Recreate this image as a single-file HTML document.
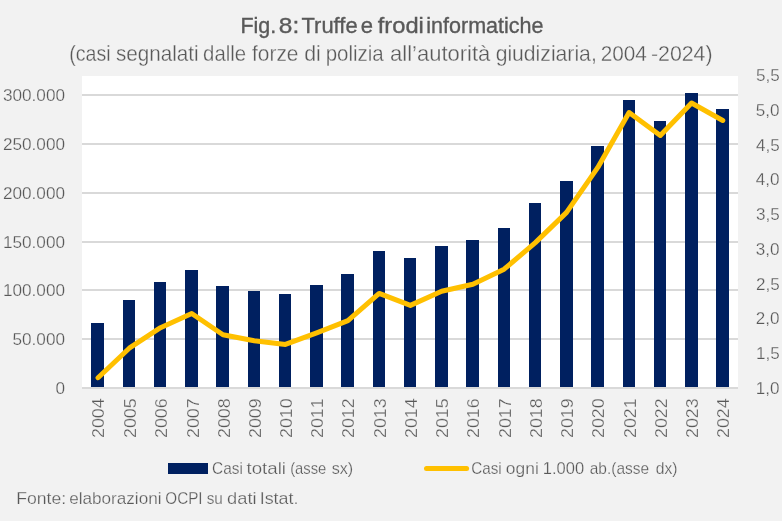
<!DOCTYPE html>
<html lang="it"><head><meta charset="utf-8"><title>Fig. 8: Truffe e frodi informatiche</title>
<style>html,body{margin:0;padding:0;background:#f2f2f2;}svg{display:block;}text{font-family:"Liberation Sans", sans-serif;fill:#595959;stroke:#f2f2f2;stroke-width:0.3px;}.b{stroke:#595959;stroke-width:0.35px;}.s,.s text{stroke-width:0.25px;}</style></head><body>
<svg width="782" height="521" viewBox="0 0 782 521">
<rect x="0" y="0" width="782" height="521" fill="#f2f2f2"/>
<rect x="82.0" y="76.0" width="656.0" height="312.0" fill="#ffffff"/>
<g fill="#d9d9d9" shape-rendering="crispEdges">
<rect x="82" y="338" width="656" height="2"/>
<rect x="82" y="289" width="656" height="2"/>
<rect x="82" y="241" width="656" height="2"/>
<rect x="82" y="192" width="656" height="2"/>
<rect x="82" y="143" width="656" height="2"/>
<rect x="82" y="94" width="656" height="2"/>
</g>
<g fill="#002060" shape-rendering="crispEdges">
<rect x="91" y="323" width="13" height="64"/>
<rect x="123" y="300" width="12" height="87"/>
<rect x="154" y="282" width="12" height="105"/>
<rect x="185" y="270" width="13" height="117"/>
<rect x="216" y="286" width="13" height="101"/>
<rect x="248" y="291" width="12" height="96"/>
<rect x="279" y="294" width="12" height="93"/>
<rect x="310" y="285" width="13" height="102"/>
<rect x="341" y="274" width="13" height="113"/>
<rect x="373" y="251" width="12" height="136"/>
<rect x="404" y="258" width="12" height="129"/>
<rect x="435" y="246" width="13" height="141"/>
<rect x="466" y="240" width="13" height="147"/>
<rect x="498" y="228" width="12" height="159"/>
<rect x="529" y="203" width="12" height="184"/>
<rect x="560" y="181" width="13" height="206"/>
<rect x="591" y="146" width="13" height="241"/>
<rect x="623" y="100" width="12" height="287"/>
<rect x="654" y="121" width="12" height="266"/>
<rect x="685" y="93" width="13" height="294"/>
<rect x="716" y="109" width="13" height="278"/>
</g>
<rect x="82" y="387" width="656" height="2" fill="#d9d9d9" shape-rendering="crispEdges"/>
<polyline points="98.02,377.70 129.26,348.20 160.50,327.70 191.73,313.50 222.97,334.80 254.21,340.70 285.45,344.40 316.69,332.90 347.92,320.70 379.16,293.40 410.40,305.40 441.64,291.30 472.88,284.30 504.11,269.20 535.35,242.60 566.59,212.40 597.83,167.40 629.07,112.50 660.30,135.50 691.54,103.00 722.78,120.50" fill="none" stroke="#ffc000" stroke-width="5" stroke-linecap="round" stroke-linejoin="round"/>
<g class="s" font-size="17.2">
<text x="55.48" y="394.10" textLength="9.55" lengthAdjust="spacingAndGlyphs">0</text>
<text x="12.51" y="345.10" textLength="52.52" lengthAdjust="spacingAndGlyphs">50.000</text>
<text x="2.96" y="296.10" textLength="62.06" lengthAdjust="spacingAndGlyphs">100.000</text>
<text x="2.96" y="248.10" textLength="62.06" lengthAdjust="spacingAndGlyphs">150.000</text>
<text x="2.96" y="199.10" textLength="62.06" lengthAdjust="spacingAndGlyphs">200.000</text>
<text x="2.96" y="150.10" textLength="62.06" lengthAdjust="spacingAndGlyphs">250.000</text>
<text x="2.96" y="101.10" textLength="62.06" lengthAdjust="spacingAndGlyphs">300.000</text>
<text x="755.80" y="393.90" textLength="23.73" lengthAdjust="spacingAndGlyphs">1,0</text>
<text x="756.07" y="359.15" textLength="23.73" lengthAdjust="spacingAndGlyphs">1,5</text>
<text x="755.80" y="324.40" textLength="23.73" lengthAdjust="spacingAndGlyphs">2,0</text>
<text x="756.07" y="289.65" textLength="23.73" lengthAdjust="spacingAndGlyphs">2,5</text>
<text x="755.80" y="254.90" textLength="23.73" lengthAdjust="spacingAndGlyphs">3,0</text>
<text x="756.07" y="220.15" textLength="23.73" lengthAdjust="spacingAndGlyphs">3,5</text>
<text x="755.80" y="185.40" textLength="23.73" lengthAdjust="spacingAndGlyphs">4,0</text>
<text x="756.07" y="150.65" textLength="23.73" lengthAdjust="spacingAndGlyphs">4,5</text>
<text x="755.80" y="115.90" textLength="23.73" lengthAdjust="spacingAndGlyphs">5,0</text>
<text x="756.07" y="81.15" textLength="23.73" lengthAdjust="spacingAndGlyphs">5,5</text>
<text style="font-kerning:none" transform="translate(104.02,438.04) rotate(-90)" textLength="39.68" lengthAdjust="spacingAndGlyphs">2004</text>
<text style="font-kerning:none" transform="translate(136.16,438.04) rotate(-90)" textLength="39.68" lengthAdjust="spacingAndGlyphs">2005</text>
<text style="font-kerning:none" transform="translate(167.40,438.04) rotate(-90)" textLength="39.68" lengthAdjust="spacingAndGlyphs">2006</text>
<text style="font-kerning:none" transform="translate(198.63,438.04) rotate(-90)" textLength="39.68" lengthAdjust="spacingAndGlyphs">2007</text>
<text style="font-kerning:none" transform="translate(229.87,438.04) rotate(-90)" textLength="39.68" lengthAdjust="spacingAndGlyphs">2008</text>
<text style="font-kerning:none" transform="translate(261.11,438.04) rotate(-90)" textLength="39.68" lengthAdjust="spacingAndGlyphs">2009</text>
<text style="font-kerning:none" transform="translate(292.35,438.04) rotate(-90)" textLength="39.68" lengthAdjust="spacingAndGlyphs">2010</text>
<text style="font-kerning:none" transform="translate(322.89,438.04) rotate(-90)" textLength="39.68" lengthAdjust="spacingAndGlyphs">2011</text>
<text style="font-kerning:none" transform="translate(354.32,438.04) rotate(-90)" textLength="39.68" lengthAdjust="spacingAndGlyphs">2012</text>
<text style="font-kerning:none" transform="translate(386.06,438.04) rotate(-90)" textLength="39.68" lengthAdjust="spacingAndGlyphs">2013</text>
<text style="font-kerning:none" transform="translate(417.30,438.04) rotate(-90)" textLength="39.68" lengthAdjust="spacingAndGlyphs">2014</text>
<text style="font-kerning:none" transform="translate(447.84,438.04) rotate(-90)" textLength="39.68" lengthAdjust="spacingAndGlyphs">2015</text>
<text style="font-kerning:none" transform="translate(478.88,438.04) rotate(-90)" textLength="39.68" lengthAdjust="spacingAndGlyphs">2016</text>
<text style="font-kerning:none" transform="translate(511.01,438.04) rotate(-90)" textLength="39.68" lengthAdjust="spacingAndGlyphs">2017</text>
<text style="font-kerning:none" transform="translate(541.85,438.04) rotate(-90)" textLength="39.68" lengthAdjust="spacingAndGlyphs">2018</text>
<text style="font-kerning:none" transform="translate(573.49,438.04) rotate(-90)" textLength="39.68" lengthAdjust="spacingAndGlyphs">2019</text>
<text style="font-kerning:none" transform="translate(603.93,438.04) rotate(-90)" textLength="39.68" lengthAdjust="spacingAndGlyphs">2020</text>
<text style="font-kerning:none" transform="translate(635.97,438.04) rotate(-90)" textLength="39.68" lengthAdjust="spacingAndGlyphs">2021</text>
<text style="font-kerning:none" transform="translate(667.20,438.04) rotate(-90)" textLength="39.68" lengthAdjust="spacingAndGlyphs">2022</text>
<text style="font-kerning:none" transform="translate(698.44,438.04) rotate(-90)" textLength="39.68" lengthAdjust="spacingAndGlyphs">2023</text>
<text style="font-kerning:none" transform="translate(729.08,438.04) rotate(-90)" textLength="39.68" lengthAdjust="spacingAndGlyphs">2024</text>
</g>
<text y="32.7" font-size="21.6" class="b">
<tspan x="240.42" textLength="35.82" lengthAdjust="spacingAndGlyphs">Fig.</tspan> <tspan x="278.84" textLength="20.37" lengthAdjust="spacingAndGlyphs">8:</tspan> <tspan x="301.56" textLength="56.03" lengthAdjust="spacingAndGlyphs">Truffe</tspan> <tspan x="360.71" textLength="12.29" lengthAdjust="spacingAndGlyphs">e</tspan> <tspan x="377.80" textLength="46.06" lengthAdjust="spacingAndGlyphs">frodi</tspan> <tspan x="426.25" textLength="117.32" lengthAdjust="spacingAndGlyphs">informatiche</tspan>
</text>
<text y="60.6" font-size="21.4">
<tspan x="69.18" textLength="41.41" lengthAdjust="spacingAndGlyphs">(casi</tspan> <tspan x="115.88" textLength="82.68" lengthAdjust="spacingAndGlyphs">segnalati</tspan> <tspan x="203.06" textLength="43.06" lengthAdjust="spacingAndGlyphs">dalle</tspan> <tspan x="252.00" textLength="46.45" lengthAdjust="spacingAndGlyphs">forze</tspan> <tspan x="304.23" textLength="16.57" lengthAdjust="spacingAndGlyphs">di</tspan> <tspan x="325.72" textLength="58.05" lengthAdjust="spacingAndGlyphs">polizia</tspan> <tspan x="390.11" textLength="100.25" lengthAdjust="spacingAndGlyphs">all’autorità</tspan> <tspan x="495.64" textLength="101.14" lengthAdjust="spacingAndGlyphs">giudiziaria,</tspan> <tspan x="600.73" textLength="46.19" lengthAdjust="spacingAndGlyphs">2004</tspan> <tspan x="650.93" textLength="61.67" lengthAdjust="spacingAndGlyphs">-2024)</tspan>
</text>
<text y="473.8" font-size="16.6" class="s">
<tspan x="212.08" textLength="30.73" lengthAdjust="spacingAndGlyphs">Casi</tspan> <tspan x="246.50" textLength="39.53" lengthAdjust="spacingAndGlyphs">totali</tspan> <tspan x="290.21" textLength="36.09" lengthAdjust="spacingAndGlyphs">(asse</tspan> <tspan x="331.65" textLength="21.49" lengthAdjust="spacingAndGlyphs">sx)</tspan>
</text>
<text y="473.8" font-size="16.6" class="s">
<tspan x="471.29" textLength="30.41" lengthAdjust="spacingAndGlyphs">Casi</tspan> <tspan x="505.86" textLength="32.89" lengthAdjust="spacingAndGlyphs">ogni</tspan> <tspan x="542.77" textLength="41.34" lengthAdjust="spacingAndGlyphs">1.000</tspan> <tspan x="589.72" textLength="59.41" lengthAdjust="spacingAndGlyphs">ab.(asse</tspan> <tspan x="655.81" textLength="21.80" lengthAdjust="spacingAndGlyphs">dx)</tspan>
</text>
<text y="503.5" font-size="16.2" class="s">
<tspan x="16.22" textLength="49.97" lengthAdjust="spacingAndGlyphs">Fonte:</tspan> <tspan x="69.16" textLength="92.36" lengthAdjust="spacingAndGlyphs">elaborazioni</tspan> <tspan x="165.28" textLength="37.29" lengthAdjust="spacingAndGlyphs">OCPI</tspan> <tspan x="206.66" textLength="16.20" lengthAdjust="spacingAndGlyphs">su</tspan> <tspan x="227.13" textLength="29.48" lengthAdjust="spacingAndGlyphs">dati</tspan> <tspan x="259.70" textLength="38.82" lengthAdjust="spacingAndGlyphs">Istat.</tspan>
</text>
<rect x="168" y="463" width="40" height="11" fill="#002060" shape-rendering="crispEdges"/>
<line x1="426.5" x2="466.6" y1="468.5" y2="468.5" stroke="#ffc000" stroke-width="5" stroke-linecap="round"/>
</svg></body></html>
